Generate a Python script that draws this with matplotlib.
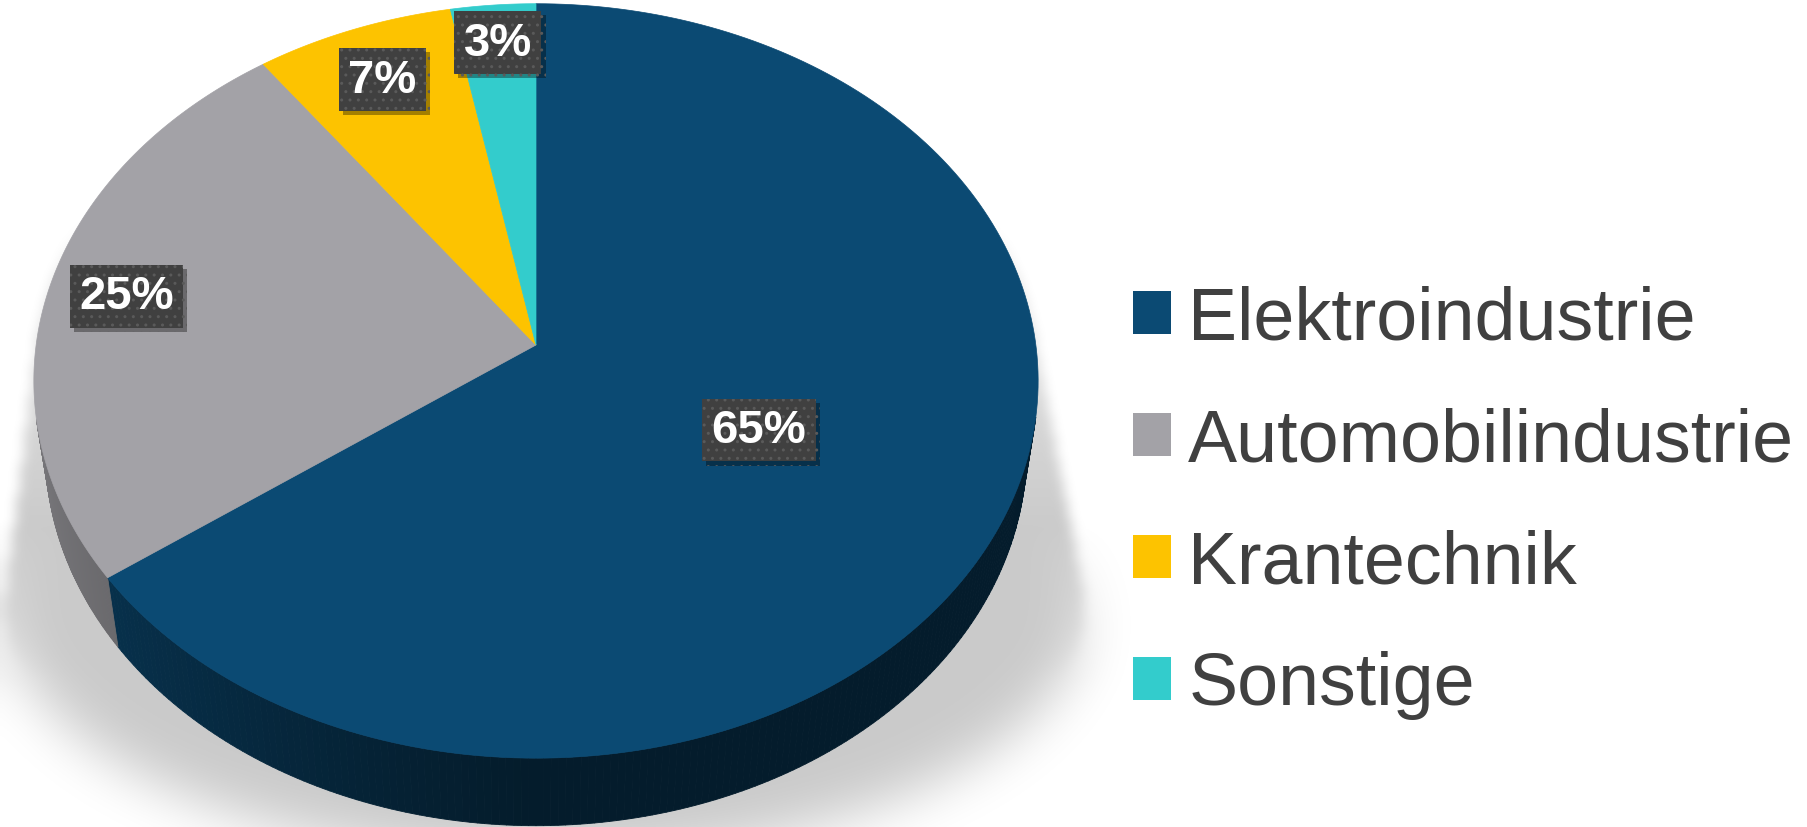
import numpy as np
import matplotlib.pyplot as plt
from matplotlib.path import Path
from matplotlib.patches import Patch
from matplotlib.collections import PolyCollection
from matplotlib import patheffects as pe
from matplotlib.colors import to_rgb

plt.rcParams["font.family"] = ["Liberation Sans", "DejaVu Sans"]

# data
categories = ["Elektroindustrie", "Automobilindustrie", "Krantechnik", "Sonstige"]
shares = [65, 25, 7, 3]
colors = ["#0b4a73", "#a3a2a7", "#fdc300", "#33cccc"]

# view / layout
W, H = 1808, 828
CX, CY = 536, 346
FOC = 3484
DIST = 6.97
ELEV = np.radians(48.4)
DEPTH = 0.218
LABEL_R = [0.49, 0.84, 0.83, 0.88]


def project(x, y, z):
    """3D -> pixel coordinates (simple perspective camera)"""
    se, ce = np.sin(ELEV), np.cos(ELEV)
    up = y * se + z * ce
    d = DIST + y * ce - z * se
    return CX + FOC * x / d, CY - FOC * up / d


def convex_hull(pts):
    pts = sorted(map(tuple, pts))

    def cross(o, a, b):
        return (a[0] - o[0]) * (b[1] - o[1]) - (a[1] - o[1]) * (b[0] - o[0])

    lower, upper = [], []
    for p in pts:
        while len(lower) >= 2 and cross(lower[-2], lower[-1], p) <= 0:
            lower.pop()
        lower.append(p)
    for p in reversed(pts):
        while len(upper) >= 2 and cross(upper[-2], upper[-1], p) <= 0:
            upper.pop()
        upper.append(p)
    return np.array(lower[:-1] + upper[:-1])


def box_blur(a, r, passes=3):
    for _ in range(passes):
        for axis in (0, 1):
            pw = [(r, r) if i == axis else (0, 0) for i in range(2)]
            c = np.cumsum(np.pad(a, pw, mode="edge"), axis=axis)
            c = np.insert(c, 0, 0, axis=axis)
            n = a.shape[axis]
            a = (np.take(c, np.arange(2 * r + 1, 2 * r + 1 + n), axis=axis)
                 - np.take(c, np.arange(0, n), axis=axis)) / (2 * r + 1)
    return a


fracs = np.array(shares) / sum(shares)
bounds = 90 - 360 * np.concatenate([[0], np.cumsum(fracs)])  # clockwise from top

fig = plt.figure(figsize=(W / 100, H / 100), dpi=100)
ax = fig.add_axes([0, 0, 1, 1])

# perspective drop shadow: top rim joined to a wider "ground" ellipse
t = np.radians(np.linspace(0, 360, 721))
tx, ty = project(np.cos(t), np.sin(t), 0)
gx_e = 545 + 540 * np.cos(t)
gy_e = 610 + 250 * np.sin(t)
hull = convex_hull(np.vstack([np.column_stack([tx, ty]),
                              np.column_stack([gx_e, gy_e])]))
step = 4
gx = np.arange(0, W, step) + step / 2
gy = np.arange(0, H + 80, step) + step / 2
GX, GY = np.meshgrid(gx, gy)
mask = Path(hull).contains_points(np.column_stack([GX.ravel(), GY.ravel()]))
mask = mask.reshape(GX.shape).astype(float)
sharp = box_blur(mask, 1)
soft = box_blur(mask, 6)
w = np.clip((GY - 520) / 160, 0, 1)
mask = (1 - w) * sharp + w * soft
alpha = mask * (0.08 + 0.13 * np.clip((GY - 230) / 300, 0, 1))
alpha *= np.clip((GY - 215) / 60, 0, 1)
rgba = np.zeros(mask.shape + (4,))
rgba[..., 3] = alpha
ax.imshow(rgba, extent=(0, gx[-1] + step / 2, gy[-1] + step / 2, 0),
          interpolation="bilinear", aspect="auto", zorder=0)

# side wall
limit = -1 / (DIST * np.cos(ELEV))
polys, fcols = [], []
for i in range(len(shares)):
    ts = np.radians(np.linspace(bounds[i], bounds[i + 1], 300))
    base = np.array(to_rgb(colors[i]))
    for a0, a1 in zip(ts[:-1], ts[1:]):
        am = (a0 + a1) / 2
        if np.sin(am) > limit + 0.02:
            continue
        x0, y0 = project(np.cos(a0), np.sin(a0), 0)
        x1, y1 = project(np.cos(a1), np.sin(a1), 0)
        x2, y2 = project(np.cos(a1), np.sin(a1), -DEPTH)
        x3, y3 = project(np.cos(a0), np.sin(a0), -DEPTH)
        polys.append([(x0, y0), (x1, y1), (x2, y2), (x3, y3)])
        k = 0.38 + 0.35 * max(0.0, -np.cos(am)) ** 1.2
        fcols.append(base * k)
ax.add_collection(PolyCollection(polys, facecolors=fcols, edgecolors=fcols,
                                 linewidths=0.6, zorder=1))

# top face
ox, oy = project(0, 0, 0)
for i in range(len(shares)):
    ts = np.radians(np.linspace(bounds[i], bounds[i + 1], 200))
    xs, ys = project(np.cos(ts), np.sin(ts), 0 * ts)
    ax.fill(np.r_[ox, xs], np.r_[oy, ys], color=colors[i], lw=0.5, zorder=2)

# data labels
for i, s in enumerate(shares):
    mid = np.radians((bounds[i] + bounds[i + 1]) / 2)
    lx, ly = project(LABEL_R[i] * np.cos(mid), LABEL_R[i] * np.sin(mid), 0)
    txt = ax.text(lx, ly, f"{s}%", ha="center", va="center", fontsize=34,
                  fontweight="bold", color="white", zorder=5,
                  bbox=dict(boxstyle="square,pad=0.2", fc="#404040",
                            ec="#5a5a5a", lw=0, hatch=".."))
    txt.get_bbox_patch().set_path_effects(
        [pe.SimplePatchShadow(offset=(3, -3), shadow_rgbFace="black", alpha=0.35),
         pe.Normal()])

# legend
handles = [Patch(facecolor=c, edgecolor="none") for c in colors]
ax.legend(handles, categories, loc="center left",
          bbox_to_anchor=(1133 / W, 1 - 503 / H), bbox_transform=fig.transFigure,
          frameon=False, fontsize=53, handlelength=0.52, handleheight=0.52,
          handletextpad=0.23, labelspacing=0.72, borderpad=0, borderaxespad=0,
          labelcolor="#404040")

ax.set_xlim(0, W)
ax.set_ylim(H, 0)
ax.axis("off")

fig.savefig("out.png", dpi=100)
